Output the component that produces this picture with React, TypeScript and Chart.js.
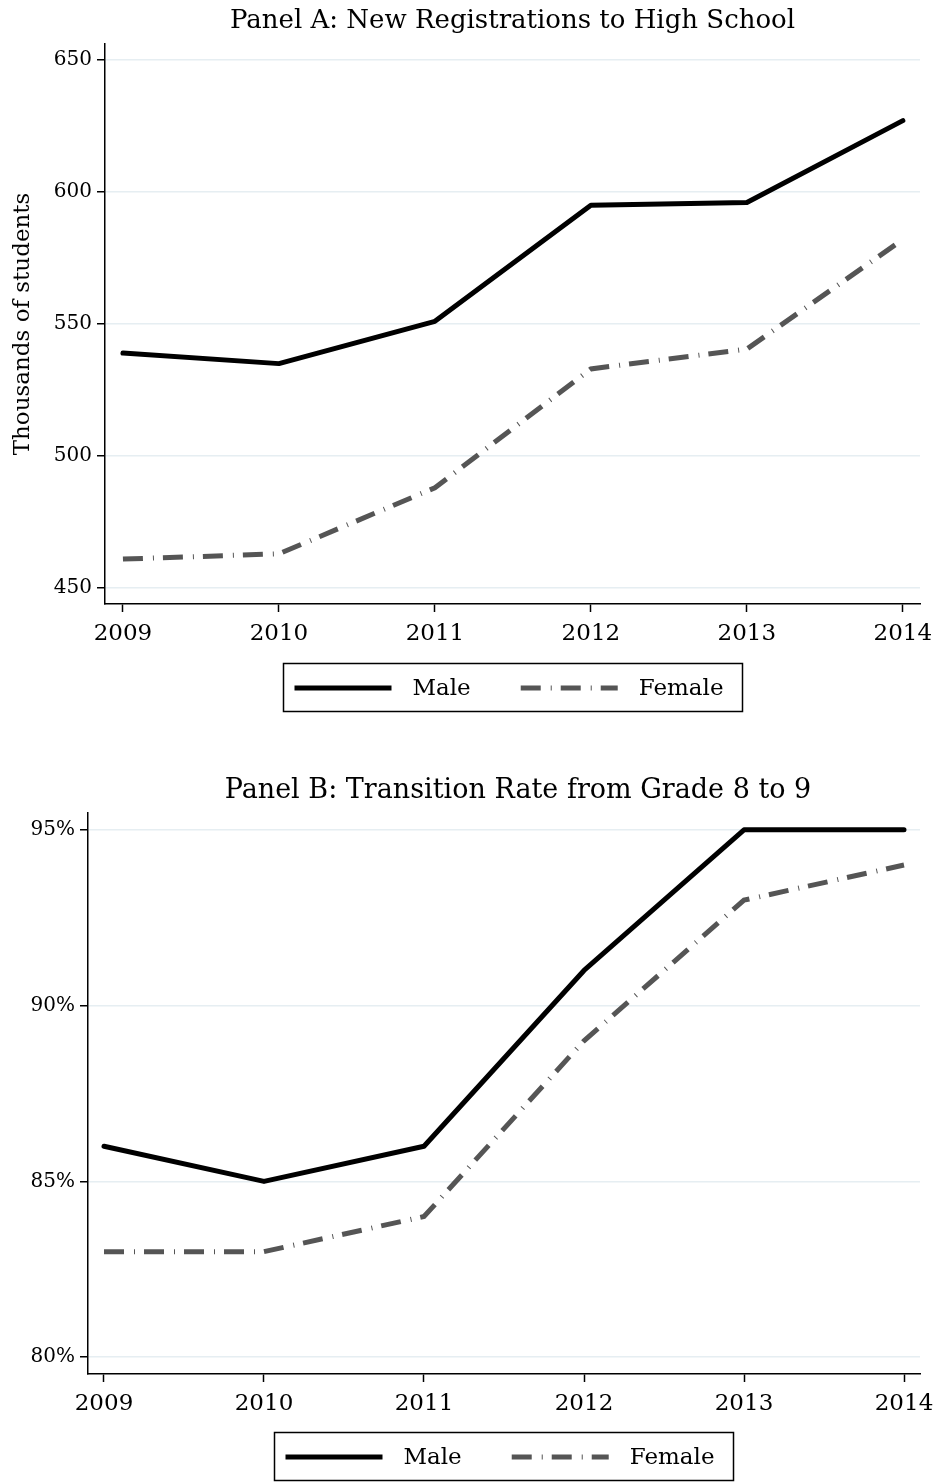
import React, { useEffect, useRef } from 'react';
import { Chart, registerables } from 'chart.js';

Chart.register(...registerables);

// ---------- data ----------
const years = [2009, 2010, 2011, 2012, 2013, 2014];
const seriesNames = ['Male', 'Female'];

const registrationsMale = [539, 535, 551, 595, 596, 627];
const registrationsFemale = [461, 463, 488, 533, 540.5, 582];
const registrationTicks = [450, 500, 550, 600, 650];

const transitionMale = [86, 85, 86, 91, 95, 95];
const transitionFemale = [83, 83, 84, 89, 93, 94];
const transitionTicks = [80, 85, 90, 95];

const titleA = 'Panel A: New Registrations to High School';
const titleB = 'Panel B: Transition Rate from Grade 8 to 9';
const yTitleA = 'Thousands of students';

// ---------- styles ----------
const FONT = "'DejaVu Serif', 'Liberation Serif', serif";
const GRID = '#e6eef2';

const panelTitle = {
  id: 'panelTitle',
  afterDraw(chart: any, _args: any, opts: any) {
    if (!opts || !opts.text) return;
    const ctx = chart.ctx as CanvasRenderingContext2D;
    const ca = chart.chartArea;
    ctx.save();
    ctx.font = `${opts.fontSize}px ${FONT}`;
    ctx.fillStyle = '#000';
    ctx.textAlign = 'center';
    ctx.textBaseline = 'middle';
    ctx.fillText(opts.text, (ca.left + ca.right) / 2 + opts.dx, opts.y);
    ctx.restore();
  },
};

const boxLegend = {
  id: 'boxLegend',
  afterDraw(chart: any, _args: any, opts: any) {
    if (!opts || !opts.enabled) return;
    const ctx = chart.ctx as CanvasRenderingContext2D;
    const ca = chart.chartArea;
    ctx.save();
    ctx.font = `${opts.fontSize}px ${FONT}`;
    const items = chart.data.datasets.map((ds: any) => ({
      label: ds.label,
      color: ds.borderColor,
      dash: ds.borderDash || [],
      width: ds.borderWidth,
      tw: ctx.measureText(ds.label).width,
    }));
    let total = opts.padLeft + opts.padRight;
    items.forEach((it: any, i: number) => {
      total += opts.sample + opts.gap + it.tw + (i < items.length - 1 ? opts.itemGap : 0);
    });
    const cx = (ca.left + ca.right) / 2;
    const left = Math.round(cx - total / 2) + 0.5;
    const top = Math.round(ca.bottom + opts.offset) + 0.5;
    ctx.lineWidth = 1.5;
    ctx.strokeStyle = '#000';
    ctx.setLineDash([]);
    ctx.strokeRect(left, top, Math.round(total), opts.height);
    let x = left + opts.padLeft;
    const y = Math.round(top + opts.height / 2);
    items.forEach((it: any) => {
      ctx.beginPath();
      ctx.setLineDash(it.dash);
      ctx.lineCap = 'butt';
      ctx.lineWidth = it.width;
      ctx.strokeStyle = it.color;
      ctx.moveTo(x, y);
      ctx.lineTo(x + opts.sample, y);
      ctx.stroke();
      ctx.setLineDash([]);
      x += opts.sample + opts.gap;
      ctx.fillStyle = '#000';
      ctx.textBaseline = 'middle';
      ctx.textAlign = 'left';
      ctx.fillText(it.label, x, y + opts.textDy);
      x += it.tw + opts.itemGap;
    });
    ctx.restore();
  },
};

function toPoints(values: number[]) {
  return years.map((yr, i) => ({ x: yr, y: values[i] }));
}

function makeConfig(p: {
  title: string;
  titleSize: number;
  titleY: number;
  titleDx: number;
  padTop: number;
  male: number[];
  female: number[];
  yTicks: number[];
  yMin: number;
  yMax: number;
  xMin: number;
  xMax: number;
  yWidth: number;
  yTitle?: string;
  percent: boolean;
  padBottom: number;
  legendOffset: number;
}) {
  return {
    type: 'line' as const,
    data: {
      datasets: [
        {
          label: seriesNames[0],
          data: toPoints(p.male),
          borderColor: '#000000',
          backgroundColor: '#000000',
          borderWidth: 5,
          borderCapStyle: 'round',
          borderJoinStyle: 'round',
          pointRadius: 0,
          tension: 0,
          fill: false,
        },
        {
          label: seriesNames[1],
          data: toPoints(p.female),
          borderColor: '#555555',
          backgroundColor: '#555555',
          borderWidth: 5,
          borderDash: [20, 10, 1, 9],
          borderCapStyle: 'butt',
          borderJoinStyle: 'miter',
          pointRadius: 0,
          tension: 0,
          fill: false,
        },
      ],
    },
    options: {
      responsive: false,
      animation: false,
      devicePixelRatio: 1,
      layout: { padding: { top: p.padTop, right: 14, bottom: p.padBottom, left: 0 } },
      plugins: {
        legend: { display: false },
        tooltip: { enabled: false },
        title: { display: false },
        panelTitle: { text: p.title, fontSize: p.titleSize, y: p.titleY, dx: p.titleDx },
        boxLegend: {
          enabled: true,
          fontSize: 23,
          padLeft: 11,
          padRight: 19,
          sample: 97,
          gap: 21,
          itemGap: 50,
          height: 48,
          offset: p.legendOffset,
          textDy: 1,
        },
      },
      scales: {
        x: {
          type: 'linear',
          min: p.xMin,
          max: p.xMax,
          afterBuildTicks: (scale: any) => {
            scale.ticks = years.map((v) => ({ value: v }));
          },
          afterFit: (scale: any) => {
            scale.height = 46;
            scale.paddingLeft = 0;
            scale.paddingRight = 0;
          },
          border: { display: true, color: '#000', width: 1.5 },
          grid: {
            display: true,
            drawOnChartArea: false,
            drawTicks: true,
            tickLength: 8,
            tickColor: '#000',
            tickWidth: 1.5,
          },
          ticks: {
            color: '#000',
            padding: 8,
            maxRotation: 0,
            autoSkip: false,
            font: { family: FONT, size: 23 },
            callback: (v: any) => String(v),
          },
        },
        y: {
          type: 'linear',
          min: p.yMin,
          max: p.yMax,
          afterBuildTicks: (scale: any) => {
            scale.ticks = p.yTicks.map((v) => ({ value: v }));
          },
          afterFit: (scale: any) => {
            scale.width = p.yWidth;
          },
          border: { display: true, color: '#000', width: 1.5 },
          grid: {
            display: true,
            drawOnChartArea: true,
            color: GRID,
            lineWidth: 1.5,
            drawTicks: true,
            tickLength: 8,
            tickColor: '#000',
            tickWidth: 1.5,
          },
          title: p.yTitle
            ? {
                display: true,
                text: p.yTitle,
                color: '#000',
                font: { family: FONT, size: 23, lineHeight: 1.2 },
                padding: { top: 9, bottom: 0 },
              }
            : { display: false },
          ticks: {
            color: '#000',
            padding: 5,
            autoSkip: false,
            font: { family: FONT, size: 20 },
            callback: (v: any) => (p.percent ? `${v}%` : String(v)),
          },
        },
      },
    },
    plugins: [panelTitle, boxLegend],
  };
}

function ChartCanvas({ config, width, height }: { config: any; width: number; height: number }) {
  const ref = useRef<HTMLCanvasElement | null>(null);
  useEffect(() => {
    if (!ref.current) return;
    const chart = new Chart(ref.current, config);
    return () => chart.destroy();
  }, [config]);
  return <canvas ref={ref} width={width} height={height} style={{ display: 'block', width, height }} />;
}

const configA = makeConfig({
  title: titleA,
  titleSize: 26,
  titleY: 21,
  titleDx: 0,
  padTop: 44,
  male: registrationsMale,
  female: registrationsFemale,
  yTicks: registrationTicks,
  yMin: 444,
  yMax: 656,
  xMin: 2008.885,
  xMax: 2014.11,
  yWidth: 105,
  yTitle: yTitleA,
  percent: false,
  padBottom: 90,
  legendOffset: 59,
});

const configB = makeConfig({
  title: titleB,
  titleSize: 27,
  titleY: 51,
  titleDx: 14,
  padTop: 73,
  male: transitionMale,
  female: transitionFemale,
  yTicks: transitionTicks,
  yMin: 79.52,
  yMax: 95.48,
  xMin: 2008.9,
  xMax: 2014.1,
  yWidth: 88,
  percent: true,
  padBottom: 62,
  legendOffset: 58,
});

export default function App() {
  return (
    <div style={{ position: 'absolute', left: 0, top: 0, width: 934, height: 1482, background: '#fff' }}>
      <ChartCanvas config={configA} width={934} height={740} />
      <ChartCanvas config={configB} width={934} height={742} />
    </div>
  );
}
